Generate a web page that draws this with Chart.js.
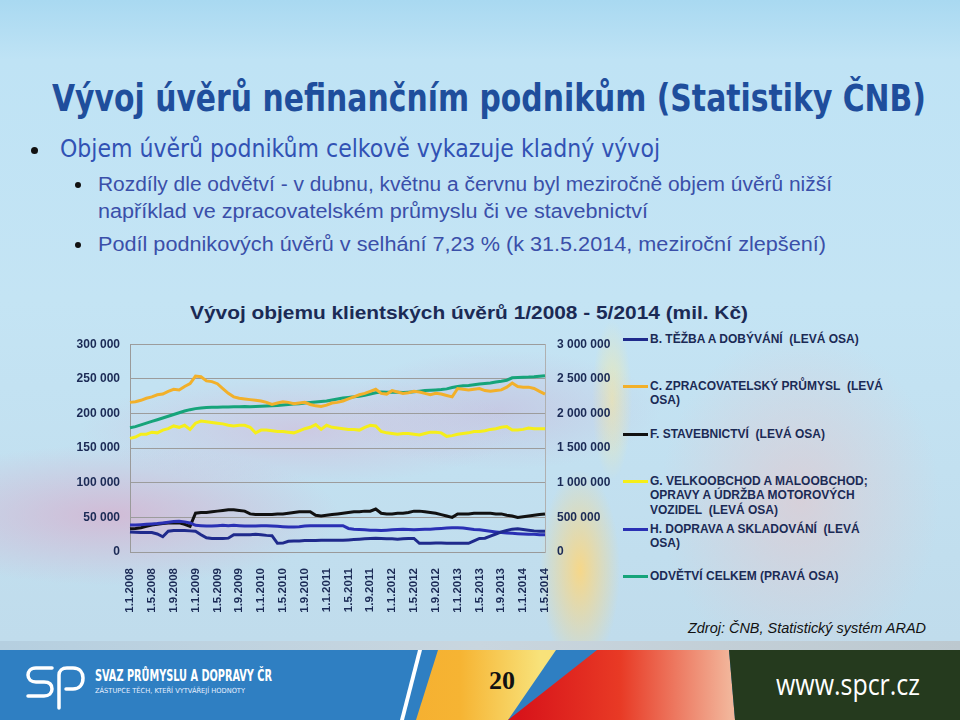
<!DOCTYPE html>
<html lang="cs">
<head>
<meta charset="utf-8">
<title>Vývoj úvěrů nefinančním podnikům</title>
<script src="https://cdn.jsdelivr.net/npm/chart.js@4.4.1/dist/chart.umd.min.js"></script>
<style>
  html, body { margin: 0; padding: 0; }
  body {
    width: 960px; height: 720px; overflow: hidden; position: relative;
    font-family: "Liberation Sans", Arial, sans-serif;
    background:
      radial-gradient(ellipse 230px 70px at 110px 515px, rgba(214,176,206,0.75), rgba(214,176,206,0) 100%),
      radial-gradient(ellipse 220px 55px at 300px 430px, rgba(212,182,214,0.55), rgba(212,182,214,0) 100%),
      radial-gradient(ellipse 160px 60px at 500px 410px, rgba(200,180,215,0.5), rgba(200,180,215,0) 100%),
      radial-gradient(ellipse 140px 170px at 800px 500px, rgba(232,196,200,0.55), rgba(232,196,200,0) 100%),
      radial-gradient(ellipse 40px 100px at 580px 570px, rgba(255,214,120,0.85), rgba(255,214,120,0) 100%),
      radial-gradient(ellipse 20px 80px at 612px 400px, rgba(255,236,150,0.6), rgba(255,236,150,0) 100%),
      linear-gradient(180deg, #a9d9f1 0px, #bfe3f5 60px, #c4e4f4 300px, #c0dcec 640px);
  }
  .abs { position: absolute; white-space: nowrap; }
  .fit { display: inline-block; transform-origin: 0 50%; }
  #title { left: 52px; top: 77px; font: bold 37px "DejaVu Sans Condensed", "DejaVu Sans", sans-serif; color: #1f4e9c; }
  .dot { position: absolute; width: 7px; height: 7px; border-radius: 50%; background: #111; }
  #b1 { left: 60px; top: 135px; font: 24px "DejaVu Sans Condensed", "DejaVu Sans", sans-serif; color: #3152b4; }
  .sub { font: 20px "Liberation Sans", Arial, sans-serif; color: #3a4fa9; }
  #ctitle { left: 190px; top: 302px; font: bold 19px "Liberation Sans", Arial, sans-serif; color: #1b2a55; }
  #chartBox { position: absolute; left: 0; top: 325px; width: 620px; height: 295px; }
  .leg { position: absolute; left: 650px; font: bold 12px "Liberation Sans", Arial, sans-serif; color: #1b2a55; line-height: 14.3px; }
  .sw { position: absolute; left: 623px; width: 25px; height: 3px; }
  #src { left: 688px; top: 619px; font: italic 15px "Liberation Sans", Arial, sans-serif; color: #111; }
  #footer { position: absolute; left: 0; top: 650px; width: 960px; height: 70px; background: #2f7fc2; overflow: hidden; }
  #footer div { position: absolute; top: 0; left: 0; width: 960px; height: 70px; }
  #strip { position: absolute; left: 0; top: 641px; width: 960px; height: 9px;
    background: linear-gradient(90deg, #b5cfe0, #c9d6df 50%, #bcc8cf); }
</style>
</head>
<body>
<div id="title" class="abs"><span class="fit" data-w="874">Vývoj úvěrů nefinančním podnikům (Statistiky ČNB)</span></div>

<div class="dot" style="left:31px;top:147px"></div>
<div id="b1" class="abs"><span class="fit" data-w="600">Objem úvěrů podnikům celkově vykazuje kladný vývoj</span></div>

<div class="dot" style="left:75px;top:182px;width:6px;height:6px"></div>
<div class="abs sub" style="left:98px;top:173px"><span class="fit" data-w="734">Rozdíly dle odvětví - v dubnu, květnu a červnu byl meziročně objem úvěrů nižší</span></div>
<div class="abs sub" style="left:98px;top:200px"><span class="fit" data-w="550">například ve zpracovatelském průmyslu či ve stavebnictví</span></div>
<div class="dot" style="left:75px;top:242px;width:6px;height:6px"></div>
<div class="abs sub" style="left:98px;top:233px"><span class="fit" data-w="728">Podíl podnikových úvěrů v selhání 7,23 % (k 31.5.2014, meziroční zlepšení)</span></div>

<div id="ctitle" class="abs"><span class="fit" data-w="558">Vývoj objemu klientských úvěrů 1/2008 - 5/2014 (mil. Kč)</span></div>

<div id="chartBox"><canvas id="chart" width="620" height="295"></canvas></div>

<div class="sw" style="top:338px;background:#1f2a8c"></div>
<div class="leg" style="top:332px">B. TĚŽBA A DOBÝVÁNÍ&nbsp; (LEVÁ OSA)</div>
<div class="sw" style="top:385px;background:#f2b02a"></div>
<div class="leg" style="top:379px">C. ZPRACOVATELSKÝ PRŮMYSL&nbsp; (LEVÁ<br>OSA)</div>
<div class="sw" style="top:433px;background:#111"></div>
<div class="leg" style="top:427px">F. STAVEBNICTVÍ&nbsp; (LEVÁ OSA)</div>
<div class="sw" style="top:480px;background:#f5ee1a"></div>
<div class="leg" style="top:474px">G. VELKOOBCHOD A MALOOBCHOD;<br>OPRAVY A ÚDRŽBA MOTOROVÝCH<br>VOZIDEL&nbsp; (LEVÁ OSA)</div>
<div class="sw" style="top:528px;background:#2a30b4"></div>
<div class="leg" style="top:522px">H. DOPRAVA A SKLADOVÁNÍ&nbsp; (LEVÁ<br>OSA)</div>
<div class="sw" style="top:575px;background:#16a47a"></div>
<div class="leg" style="top:569px">ODVĚTVÍ CELKEM (PRAVÁ OSA)</div>

<div id="src" class="abs"><span class="fit" data-w="238">Zdroj: ČNB, Statistický systém ARAD</span></div>

<div id="strip"></div>
<div id="footer">
  <div style="background:#fff;clip-path:polygon(418px 0,422px 0,404px 70px,400px 70px)"></div>
  <div style="background:linear-gradient(90deg,#ef8f1c 0px,#f6b433 460px,#f8e27a 540px);clip-path:polygon(438px 0,556px 0,508px 70px,416px 70px)"></div>
  <div style="background:linear-gradient(90deg,#d8141a 520px,#e83a25 620px,#f2b59a 730px);clip-path:polygon(597px 0,729px 0,735px 70px,508px 70px)"></div>
  <div style="background:#253a1e;clip-path:polygon(729px 0,960px 0,960px 70px,735px 70px)"></div>
  <svg style="position:absolute;left:26px;top:14px" width="60" height="46" viewBox="0 0 60 46">
    <path d="M26 4 H10 C4 4 2 8 2 11 C2 15 5 18 10 18 H18 C24 18 26 21 26 25 C26 29 23 32 18 32 H2" fill="none" stroke="#fff" stroke-width="3.5" stroke-linecap="round"/>
    <path d="M33 44 V11 C33 7 36 4 41 4 H47 C54 4 57 9 57 14 C57 21 53 25 47 25 H40" fill="none" stroke="#fff" stroke-width="3.5" stroke-linecap="round"/>
  </svg>
  <span class="abs" style="left:95px;top:17px;font:bold 15px 'DejaVu Sans Condensed',sans-serif;color:#fff"><span class="fit" data-w="177">SVAZ PRŮMYSLU A DOPRAVY ČR</span></span>
  <span class="abs" style="left:95px;top:37px;font:7px 'DejaVu Sans Condensed',sans-serif;color:#e8f0ff"><span class="fit" data-w="150">ZÁSTUPCE TĚCH, KTEŘÍ VYTVÁŘEJÍ HODNOTY</span></span>
  <span class="abs" style="left:489px;top:16px;font:bold 26px 'Liberation Serif',serif;color:#111">20</span>
  <span class="abs" style="left:776px;top:13px;font:30px 'Open Sans','DejaVu Sans',sans-serif;color:#fff"><span class="fit" data-w="144">www.spcr.cz</span></span>
</div>

<script>
// měsíční údaje 1/2008 - 5/2014, mil. Kč
const months = [
  "1.1.2008","1.2.2008","1.3.2008","1.4.2008","1.5.2008","1.6.2008","1.7.2008","1.8.2008","1.9.2008","1.10.2008","1.11.2008","1.12.2008",
  "1.1.2009","1.2.2009","1.3.2009","1.4.2009","1.5.2009","1.6.2009","1.7.2009","1.8.2009","1.9.2009","1.10.2009","1.11.2009","1.12.2009",
  "1.1.2010","1.2.2010","1.3.2010","1.4.2010","1.5.2010","1.6.2010","1.7.2010","1.8.2010","1.9.2010","1.10.2010","1.11.2010","1.12.2010",
  "1.1.2011","1.2.2011","1.3.2011","1.4.2011","1.5.2011","1.6.2011","1.7.2011","1.8.2011","1.9.2011","1.10.2011","1.11.2011","1.12.2011",
  "1.1.2012","1.2.2012","1.3.2012","1.4.2012","1.5.2012","1.6.2012","1.7.2012","1.8.2012","1.9.2012","1.10.2012","1.11.2012","1.12.2012",
  "1.1.2013","1.2.2013","1.3.2013","1.4.2013","1.5.2013","1.6.2013","1.7.2013","1.8.2013","1.9.2013","1.10.2013","1.11.2013","1.12.2013",
  "1.1.2014","1.2.2014","1.3.2014","1.4.2014","1.5.2014"
];

const tezba = [
  29000, 28500, 28000, 28000, 28000, 26000, 22000, 30000, 31000, 31000, 31000, 30500,
  30000, 25000, 20500, 19500, 19500, 19500, 20000, 25000, 25000, 25000, 25000, 25500,
  25000, 24000, 23500, 12500, 12800, 15500, 16000, 16000, 16500, 16500, 16500, 17000,
  17000, 17000, 17000, 17000, 17500, 18000, 18500, 19000, 19500, 20000, 19500, 19000,
  19000, 18500, 19000, 19500, 19500, 12500, 12500, 12500, 13000, 13000, 12500, 12500,
  12500, 12500, 12500, 16000, 19500, 20000, 23000, 26000, 29000, 31000, 33000, 33500,
  32500, 31500, 30500, 30000, 30000
];
const zpracovatelsky = [
  216000, 217000, 219000, 222000, 224000, 227000, 228000, 232000, 235000, 234000, 239000, 243000,
  254000, 253000, 247000, 246000, 243000, 236000, 229000, 224000, 222000, 221000, 220000, 219000,
  218000, 216000, 213000, 215000, 217000, 216000, 214000, 215000, 216000, 213000, 211000, 210000,
  212000, 215000, 216000, 218000, 221000, 224000, 227000, 229000, 232000, 235000, 229000, 228000,
  233000, 231000, 229000, 230000, 232000, 231000, 229000, 227000, 229000, 228000, 226000, 224000,
  236000, 235000, 234000, 235000, 236000, 233000, 232000, 233000, 234000, 238000, 244000, 239000,
  238000, 238000, 236000, 232000, 228000
];
const stavebnictvi = [
  33500, 34000, 35000, 37000, 39000, 40000, 41000, 42000, 42000, 42000, 40000, 37000,
  56000, 57000, 57000, 58000, 59000, 60000, 61000, 61000, 60000, 59000, 55000, 54000,
  54000, 54000, 54000, 55000, 55000, 56000, 57000, 58000, 58000, 58000, 53000, 52000,
  53000, 54000, 55000, 56000, 57000, 58000, 58000, 59000, 59000, 62000, 56000, 55000,
  55000, 56000, 56000, 57000, 59000, 59000, 58000, 57000, 56000, 54000, 52000, 50000,
  55000, 55000, 55000, 56000, 56000, 56000, 56000, 55000, 55000, 53000, 52000, 50000,
  51000, 52000, 53000, 54000, 55000
];
const obchod = [
  164000, 166000, 170000, 170000, 173000, 172000, 176000, 178000, 182000, 180000, 183000, 177000,
  186000, 189000, 188000, 187000, 186000, 185000, 183000, 182000, 183000, 183000, 180000, 172000,
  176000, 176000, 175000, 174000, 174000, 173000, 172000, 175000, 178000, 180000, 184000, 177000,
  183000, 180000, 179000, 178000, 177000, 177000, 176000, 180000, 183000, 182000, 174000, 172000,
  171000, 170000, 171000, 171000, 170000, 169000, 171000, 173000, 173000, 172000, 167000, 168000,
  170000, 171000, 172000, 174000, 174000, 175000, 177000, 178000, 180000, 181000, 176000, 176000,
  177000, 179000, 178000, 178000, 178000
];
const doprava = [
  39000, 39000, 39500, 40000, 40500, 41000, 42000, 43000, 44000, 44500, 43500, 42000,
  38500, 38000, 37500, 37500, 38000, 38500, 38000, 38500, 38000, 37500, 37500, 37500,
  38000, 38000, 37500, 37000, 36500, 36000, 36000, 36500, 37500, 38000, 38000, 38000,
  38000, 38000, 38000, 38000, 34000, 33000, 32500, 32000, 31500, 31500, 31000, 31500,
  32000, 32500, 33000, 32500, 32000, 32500, 33000, 33000, 33500, 34000, 34500, 35000,
  35000, 34500, 33500, 32500, 32000, 31000, 30000, 29000, 28000, 27500, 27000, 26500,
  26000, 25500, 25500, 25000, 25000
];
const celkem = [
  1795000, 1810000, 1835000, 1860000, 1885000, 1910000, 1935000, 1960000, 1985000, 2010000, 2035000, 2055000,
  2070000, 2080000, 2085000, 2088000, 2090000, 2095000, 2092000, 2098000, 2096000, 2100000, 2098000, 2102000,
  2105000, 2108000, 2112000, 2115000, 2122000, 2128000, 2135000, 2140000, 2150000, 2158000, 2165000, 2172000,
  2180000, 2195000, 2210000, 2222000, 2232000, 2240000, 2250000, 2262000, 2280000, 2300000, 2310000, 2308000,
  2306000, 2305000, 2302000, 2308000, 2315000, 2322000, 2330000, 2335000, 2340000, 2345000, 2355000, 2375000,
  2390000, 2400000, 2405000, 2415000, 2425000, 2432000, 2440000, 2455000, 2465000, 2480000, 2515000, 2518000,
  2522000, 2525000, 2530000, 2538000, 2546000
];

const LEFT_MAX = 300000;
const RIGHT_MAX = 3000000;
const TEXT = "#1b2a55";

function fitText() {
  document.querySelectorAll(".fit").forEach((el) => {
    const target = Number(el.dataset.w);
    const w = el.getBoundingClientRect().width;
    if (w > 0) el.style.transform = `scaleX(${target / w})`;
  });
}

function spaced(v) {
  return String(v).replace(/\B(?=(\d{3})+(?!\d))/g, " ");
}

function line(label, data, color, axis) {
  return {
    label,
    data,
    borderColor: color,
    backgroundColor: color,
    borderWidth: 3,
    pointRadius: 0,
    tension: 0,
    yAxisID: axis,
  };
}

const tickFont = { family: "'Liberation Sans', Arial, sans-serif", size: 12, weight: "bold" };

new Chart(document.getElementById("chart"), {
  type: "line",
  data: {
    labels: months,
    datasets: [
      line("B. TĚŽBA A DOBÝVÁNÍ (LEVÁ OSA)", tezba, "#1f2a8c", "y"),
      line("H. DOPRAVA A SKLADOVÁNÍ (LEVÁ OSA)", doprava, "#2a30b4", "y"),
      line("F. STAVEBNICTVÍ (LEVÁ OSA)", stavebnictvi, "#111111", "y"),
      line("C. ZPRACOVATELSKÝ PRŮMYSL (LEVÁ OSA)", zpracovatelsky, "#f2b02a", "y"),
      line("ODVĚTVÍ CELKEM (PRAVÁ OSA)", celkem, "#16a47a", "y1"),
      line("G. VELKOOBCHOD A MALOOBCHOD; OPRAVY A ÚDRŽBA MOTOROVÝCH VOZIDEL (LEVÁ OSA)", obchod, "#f5ee1a", "y"),
    ],
  },
  options: {
    responsive: false,
    animation: false,
    devicePixelRatio: 1,
    layout: { padding: { top: 15, left: 0, right: 0, bottom: 0 } },
    plugins: { legend: { display: false }, tooltip: { enabled: false } },
    scales: {
      x: {
        grid: { display: false },
        border: { display: true, color: "#9a9a9a" },
        ticks: {
          autoSkip: false,
          maxRotation: 90,
          minRotation: 90,
          padding: 8,
          color: TEXT,
          font: { ...tickFont, size: 11.5 },
          callback: (val, idx) => (idx % 4 === 0 ? months[idx] : ""),
        },
        afterFit: (s) => { s.height = 68; },
      },
      y: {
        position: "left",
        min: 0,
        max: LEFT_MAX,
        grid: { color: "#9c9c9c", drawTicks: false },
        border: { display: true, color: "#9a9a9a" },
        ticks: { stepSize: 50000, padding: 10, color: TEXT, font: tickFont, callback: spaced },
        afterFit: (s) => { s.width = 130; },
      },
      y1: {
        position: "right",
        min: 0,
        max: RIGHT_MAX,
        grid: { drawOnChartArea: false, drawTicks: false },
        border: { display: true, color: "#b0b0b0" },
        ticks: { stepSize: 500000, padding: 12, color: TEXT, font: tickFont, callback: spaced },
        afterFit: (s) => { s.width = 75; },
      },
    },
  },
});

fitText();
</script>
</body>
</html>
